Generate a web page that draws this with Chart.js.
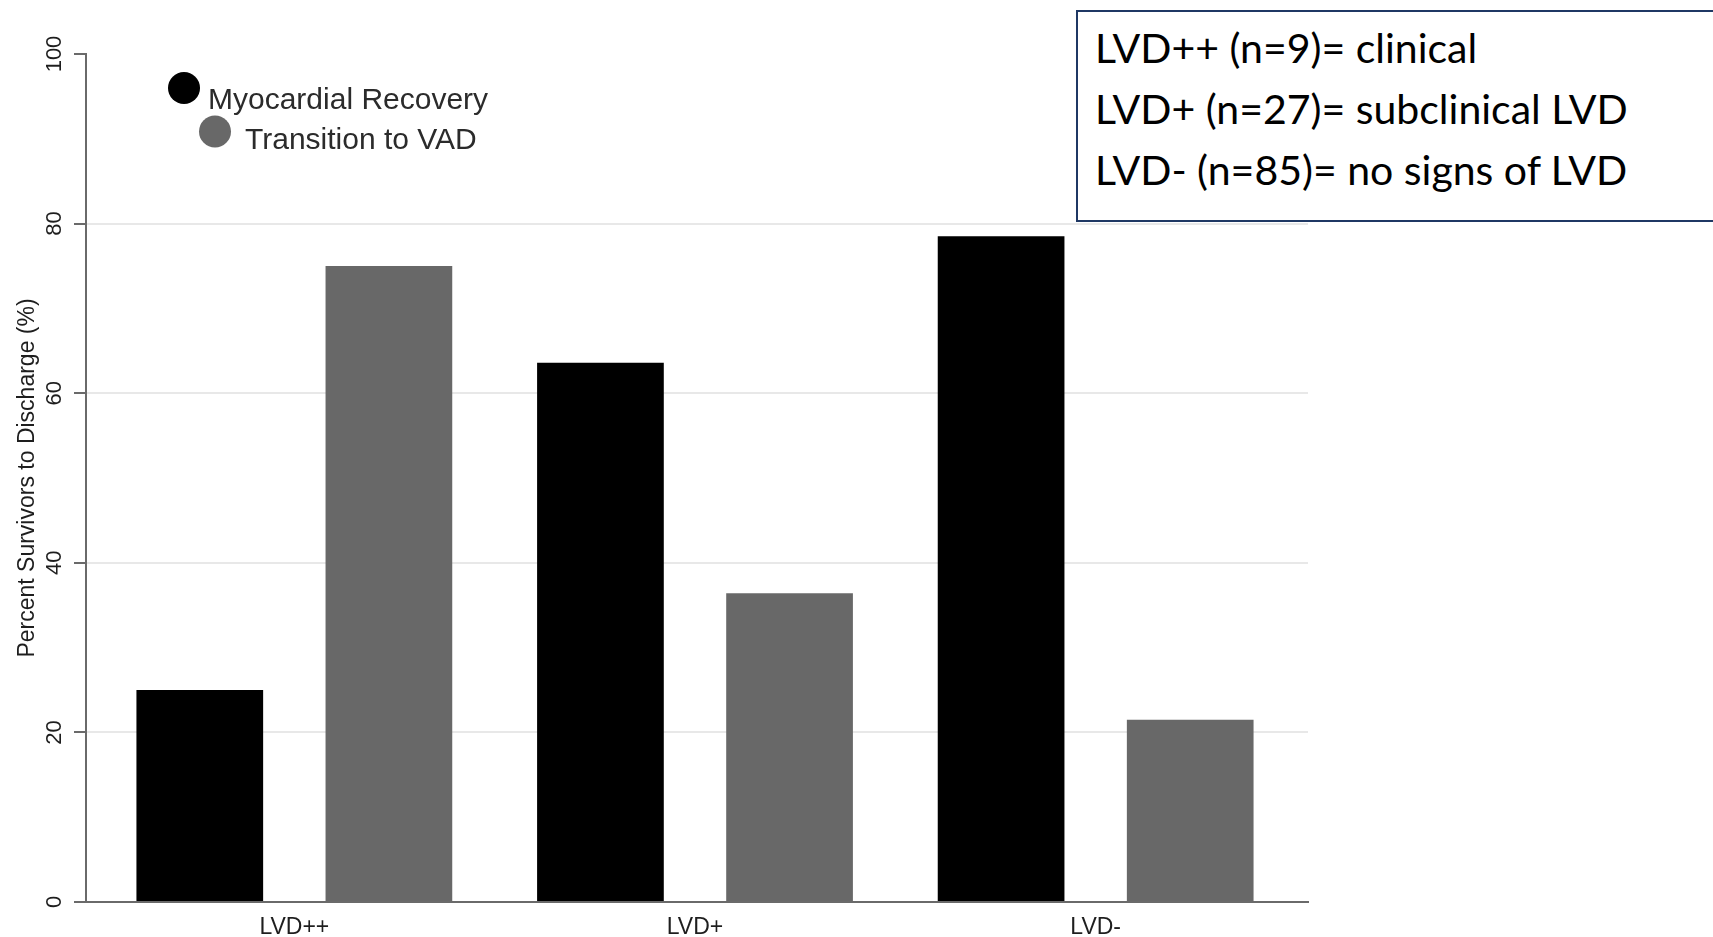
<!DOCTYPE html>
<html>
<head>
<meta charset="utf-8">
<script src="https://cdn.jsdelivr.net/npm/chart.js@4.4.1/dist/chart.umd.min.js"></script>
<style>
  html, body { margin: 0; padding: 0; background: #ffffff; }
  #wrap { position: relative; width: 1713px; height: 937px; overflow: hidden; background: #fff; }
  #chart { position: absolute; left: 0; top: 0; }
  #note {
    position: absolute; left: 1076px; top: 10px; width: 720px; height: 212px;
    box-sizing: border-box; border: 2px solid #1f3864; background: #fff;
    padding: 5px 0 0 17px; font-family: "Lato", "Open Sans", sans-serif; color: #000;
  }
  #note div { font-size: 41px; line-height: 61px; white-space: nowrap; }
</style>
</head>
<body>
<div id="wrap">
  <canvas id="chart" width="1713" height="937"></canvas>
  <div id="note"></div>
</div>
<script>
// ---- data ----
const categories = ['LVD++', 'LVD+', 'LVD-'];
const recoveryValues = [25, 63.6, 78.5];   // Myocardial Recovery (%)
const vadValues = [75, 36.4, 21.5];        // Transition to VAD (%)
const seriesNames = ['Myocardial Recovery', 'Transition to VAD'];
const yTickValues = [0, 20, 40, 60, 80, 100];
const yAxisTitle = 'Percent Survivors to Discharge (%)';
const noteLines = [
  'LVD++ (n=9)= clinical',
  'LVD+ (n=27)= subclinical LVD',
  'LVD- (n=85)= no signs of LVD'
];

// ---- note box (real text) ----
const note = document.getElementById('note');
noteLines.forEach(t => { const d = document.createElement('div'); d.textContent = t; note.appendChild(d); });

// ---- in-plot legend (Stata style) ----
const stataLegend = {
  id: 'stataLegend',
  afterDatasetsDraw(chart) {
    const ctx = chart.ctx;
    const spots = [
      { cx: 184, cy: 88, r: 16, tx: 208, ty: 109 },
      { cx: 215, cy: 131.5, r: 16, tx: 245, ty: 149 }
    ];
    ctx.save();
    chart.data.datasets.forEach((ds, i) => {
      const s = spots[i];
      ctx.beginPath();
      ctx.arc(s.cx, s.cy, s.r, 0, Math.PI * 2);
      ctx.fillStyle = ds.backgroundColor;
      ctx.fill();
      ctx.font = '30px "Liberation Sans", Arial, sans-serif';
      ctx.fillStyle = '#2b2b2b';
      ctx.textBaseline = 'alphabetic';
      ctx.textAlign = 'left';
      ctx.fillText(ds.label, s.tx, s.ty);
    });
    ctx.restore();
  }
};

const axisGray = '#6a6a6a';

new Chart(document.getElementById('chart'), {
  type: 'bar',
  data: {
    datasets: [
      { label: seriesNames[0], data: categories.map((c, i) => ({ x: i, y: recoveryValues[i] })), backgroundColor: '#000000' },
      { label: seriesNames[1], data: categories.map((c, i) => ({ x: i, y: vadValues[i] })), backgroundColor: '#686868' }
    ]
  },
  options: {
    responsive: false,
    animation: false,
    events: [],
    categoryPercentage: 0.944,
    barPercentage: 0.67,
    layout: { padding: { left: 0, top: 54, right: 405, bottom: 0 } },
    plugins: { legend: { display: false }, tooltip: { enabled: false } },
    scales: {
      x: {
        type: 'linear',
        min: -0.52,
        max: 2.53,
        offset: false,
        grid: { display: false, drawTicks: false, offset: false },
        border: { display: true, color: axisGray, width: 2 },
        ticks: {
          stepSize: 1,
          includeBounds: false,
          autoSkip: false,
          maxRotation: 0,
          padding: 12,
          color: '#1e1e1e',
          font: { family: '"Liberation Sans", Arial, sans-serif', size: 23 },
          callback: (v) => Number.isInteger(v) && categories[v] !== undefined ? categories[v] : ''
        },
        afterFit: (s) => { s.height = 35; }
      },
      y: {
        min: 0,
        max: 100,
        afterBuildTicks: (s) => { s.ticks = yTickValues.map(v => ({ value: v })); },
        grid: {
          color: (c) => (c.tick && (c.tick.value === 0 || c.tick.value === 100)) ? 'rgba(0,0,0,0)' : '#e8e8e8',
          lineWidth: 2,
          tickColor: axisGray,
          tickLength: 12,
          tickWidth: 2
        },
        border: { display: true, color: axisGray, width: 2 },
        ticks: {
          minRotation: 90,
          maxRotation: 90,
          crossAlign: 'center',
          padding: 1,
          color: '#1e1e1e',
          font: { family: '"Liberation Sans", Arial, sans-serif', size: 22 }
        },
        title: {
          display: true,
          text: yAxisTitle,
          color: '#1e1e1e',
          font: { family: '"Liberation Sans", Arial, sans-serif', size: 23 },
          padding: { top: 14, bottom: 0 }
        },
        afterFit: (s) => { s.width = 86; }
      }
    }
  },
  plugins: [stataLegend]
});
</script>
</body>
</html>
